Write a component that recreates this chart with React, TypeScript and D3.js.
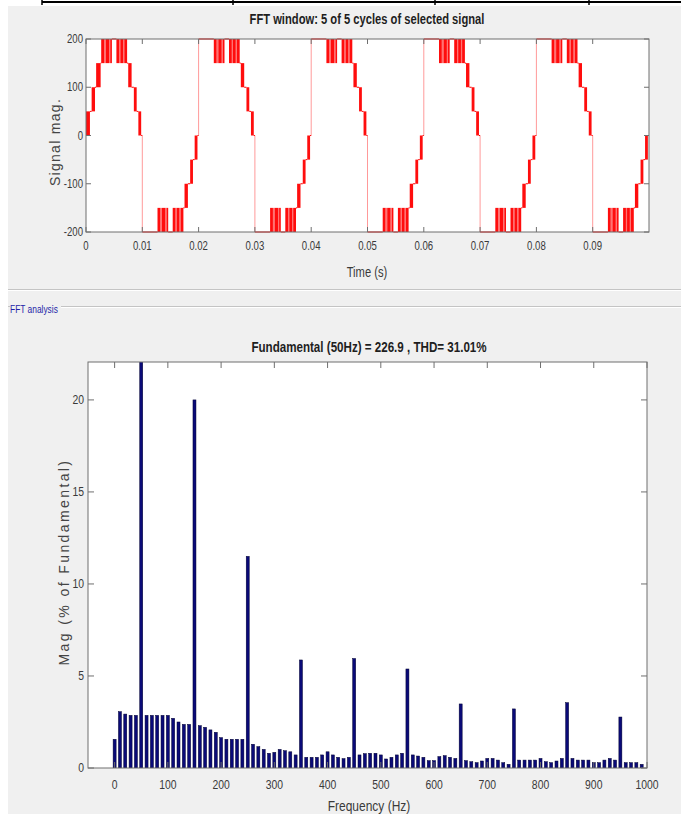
import * as React from 'react';
import * as d3 from 'd3';

// ---- top panel: inverter output over the FFT window ----
const timeTicks = [0, 0.01, 0.02, 0.03, 0.04, 0.05, 0.06, 0.07, 0.08, 0.09];
const timeTickLabels = ['0', '0.01', '0.02', '0.03', '0.04', '0.05', '0.06', '0.07', '0.08', '0.09'];
const signalTicks = [200, 100, 0, -100, -200];

// half cycles (start time, sign)
const halfCycleStart = [0, 0.01, 0.02, 0.03, 0.04, 0.05, 0.06, 0.07, 0.08, 0.09];
const halfCycleSign = [1, -1, 1, -1, 1, -1, 1, -1, 1, -1];

// [t0, t1, low level, high level, dense?] relative to the half cycle start
const startupSteps = [
  [0, 0.0007, 0, 50, 1],
  [0.0007, 0.001, 50, 50, 1],
  [0.001, 0.0016, 50, 100, 1],
  [0.0016, 0.0018, 100, 100, 1],
  [0.0018, 0.0026, 100, 150, 1],
  [0.0026, 0.0027, 150, 150, 1],
];
const holdSteps = [[0, 0.0027, 200, 200, 1]];
const halfCycleSteps = [
  [0.0027, 0.0032, 150, 200, 1],
  [0.0032, 0.0035, 150, 200, 0],
  [0.0035, 0.0041, 150, 200, 1],
  [0.0041, 0.0043, 150, 200, 0],
  [0.0043, 0.0046, 150, 200, 1],
  [0.0046, 0.0054, 200, 200, 1],
  [0.0054, 0.0059, 150, 200, 1],
  [0.0059, 0.0061, 150, 200, 0],
  [0.0061, 0.0066, 150, 200, 1],
  [0.0066, 0.0068, 150, 200, 0],
  [0.0068, 0.0073, 150, 200, 1],
  [0.0073, 0.0075, 150, 150, 1],
  [0.0075, 0.0081, 100, 150, 1],
  [0.0081, 0.0085, 100, 100, 1],
  [0.0085, 0.009, 50, 100, 1],
  [0.009, 0.0093, 50, 50, 1],
  [0.0093, 0.0098, 0, 50, 1],
  [0.0098, 0.01, 0, 0, 1],
];

// ---- bottom panel: harmonic spectrum ----
const freqTicks = [0, 100, 200, 300, 400, 500, 600, 700, 800, 900, 1000];
const magTicks = [0, 5, 10, 15, 20];
const freqHz = [
  0, 10, 20, 30, 40, 50, 60, 70, 80, 90, 100, 110, 120, 130, 140, 150, 160, 170, 180, 190,
  200, 210, 220, 230, 240, 250, 260, 270, 280, 290, 300, 310, 320, 330, 340, 350, 360, 370, 380, 390,
  400, 410, 420, 430, 440, 450, 460, 470, 480, 490, 500, 510, 520, 530, 540, 550, 560, 570, 580, 590,
  600, 610, 620, 630, 640, 650, 660, 670, 680, 690, 700, 710, 720, 730, 740, 750, 760, 770, 780, 790,
  800, 810, 820, 830, 840, 850, 860, 870, 880, 890, 900, 910, 920, 930, 940, 950, 960, 970, 980, 990,
];
const magPct = [
  1.56, 3.06, 2.93, 2.86, 2.86, 100, 2.86, 2.86, 2.86, 2.86, 2.86, 2.7, 2.5, 2.37, 2.37, 20.0, 2.3, 2.21, 2.07, 1.94,
  1.65, 1.56, 1.56, 1.56, 1.56, 11.5, 1.29, 1.16, 1.01, 0.8, 0.85, 1.01, 0.94, 0.88, 0.71, 5.87, 0.58, 0.58, 0.58, 0.71,
  0.88, 0.71, 0.58, 0.51, 0.58, 5.95, 0.71, 0.78, 0.8, 0.8, 0.71, 0.49, 0.58, 0.71, 0.8, 5.38, 0.71, 0.65, 0.58, 0.4,
  0.4, 0.62, 0.67, 0.58, 0.52, 3.48, 0.4, 0.34, 0.29, 0.38, 0.52, 0.52, 0.43, 0.29, 0.2, 3.21, 0.43, 0.43, 0.43, 0.43,
  0.52, 0.34, 0.29, 0.38, 0.52, 3.55, 0.52, 0.43, 0.43, 0.43, 0.29, 0.29, 0.43, 0.52, 0.43, 2.77, 0.29, 0.29, 0.29, 0.2,
];

const SANS = "'Liberation Sans', Arial, sans-serif";
const AXIS = '#6f6f6f';
const TXT = '#3a3a3a';

const top = { left: 86, right: 649, top: 39, bottom: 232 };
const bot = { left: 88, right: 647, top: 362, bottom: 768 };

// Arial squeezed horizontally, stands in for the narrow MATLAB font
function Narrow(props: {
  x: number;
  y: number;
  size: number;
  anchor?: string;
  bold?: boolean;
  fill?: string;
  children: React.ReactNode;
}) {
  return (
    <text
      transform={`translate(${props.x},${props.y}) scale(0.8,1)`}
      textAnchor={props.anchor || 'middle'}
      fontFamily={SANS}
      fontWeight={props.bold ? 'bold' : 'normal'}
      fontSize={props.size}
      fill={props.fill || TXT}
    >
      {props.children}
    </text>
  );
}

export default function App() {
  const x1 = d3.scaleLinear().domain([0, 0.1]).range([top.left, top.right]);
  const y1 = d3.scaleLinear().domain([-200, 200]).range([top.bottom, top.top]);
  const x2 = d3.scaleLinear().domain([-50, 1000]).range([bot.left, bot.right]);
  const y2 = d3.scaleLinear().domain([0, 22.06]).range([bot.bottom, bot.top]);

  // build the waveform marks
  const bands: React.ReactNode[] = [];
  const flats: string[] = [];
  const jumps: string[] = [];
  let prev: { level: number; flat: boolean } | null = null;
  halfCycleStart.forEach((t0, h) => {
    const s = halfCycleSign[h];
    const steps = (h === 0 ? startupSteps : holdSteps).concat(halfCycleSteps);
    steps.forEach((st, i) => {
      const [a, b, lo, hi, dense] = st;
      const ta = t0 + a;
      const tb = t0 + b;
      const flat = lo === hi;
      if (prev && prev.flat && flat && prev.level !== lo * s) {
        jumps.push(`M${x1(ta)},${y1(prev.level)}V${y1(lo * s)}`);
      }
      if (flat) {
        flats.push(`M${x1(ta)},${y1(lo * s)}H${x1(tb)}`);
      } else {
        const ya = y1(Math.max(lo * s, hi * s));
        const yb = y1(Math.min(lo * s, hi * s));
        bands.push(
          <rect
            key={`b${h}-${i}`}
            x={x1(ta)}
            y={ya}
            width={x1(tb) - x1(ta)}
            height={yb - ya}
            fill="#ff0000"
            fillOpacity={dense ? 0.95 : 0.55}
          />
        );
      }
      prev = { level: flat ? lo * s : hi * s, flat };
    });
  });

  const barW = 3;

  return (
    <svg width={681} height={814} style={{ position: 'absolute', left: 0, top: 0, display: 'block' }}>
      <defs>
        <clipPath id="clipTop">
          <rect x={top.left} y={top.top - 1} width={top.right - top.left} height={top.bottom - top.top + 2} />
        </clipPath>
        <clipPath id="clipBot">
          <rect x={bot.left} y={bot.top} width={bot.right - bot.left} height={bot.bottom - bot.top} />
        </clipPath>
      </defs>
      <rect x={0} y={0} width={681} height={814} fill="#ffffff" />
      <rect x={8} y={6} width={673} height={808} fill="#f0f0f0" />

      {/* table border remnants at the very top */}
      <line x1={42} x2={681} y1={2} y2={2} stroke="#000" strokeWidth={2} />
      {[42, 233, 435, 589].map(v => (
        <line key={v} x1={v} x2={v} y1={0} y2={5} stroke="#000" strokeWidth={1.5} />
      ))}

      {/* ---------- top axes ---------- */}
      <Narrow x={367} y={24} size={14} bold fill="#1e1e1e">
        FFT window: 5 of 5 cycles of selected signal
      </Narrow>
      <rect x={top.left} y={top.top} width={top.right - top.left} height={top.bottom - top.top} fill="#fff" />
      <g clipPath="url(#clipTop)">
        {bands}
        <path d={flats.join('')} stroke="#ff0000" strokeWidth={1} fill="none" />
        <path d={jumps.join('')} stroke="#ff0000" strokeOpacity={0.4} strokeWidth={1} fill="none" />
      </g>
      <rect x={top.left} y={top.top} width={top.right - top.left} height={top.bottom - top.top} fill="none" stroke={AXIS} strokeWidth={1} />
      {timeTicks.map((t, i) => (
        <g key={t}>
          <line x1={x1(t)} x2={x1(t)} y1={top.bottom} y2={top.bottom - 5} stroke={AXIS} />
          <line x1={x1(t)} x2={x1(t)} y1={top.top} y2={top.top + 5} stroke={AXIS} />
          <Narrow x={x1(t)} y={250} size={12}>
            {timeTickLabels[i]}
          </Narrow>
        </g>
      ))}
      {signalTicks.map(v => (
        <g key={v}>
          <line x1={top.left} x2={top.left + 5} y1={y1(v)} y2={y1(v)} stroke={AXIS} />
          <line x1={top.right} x2={top.right - 5} y1={y1(v)} y2={y1(v)} stroke={AXIS} />
          <Narrow x={83} y={y1(v) + 4} size={12} anchor="end">
            {v}
          </Narrow>
        </g>
      ))}
      <Narrow x={367} y={277} size={14}>
        Time (s)
      </Narrow>
      <text
        transform="translate(60,142) rotate(-90)"
        textAnchor="middle"
        fontFamily={SANS}
        fontSize={14}
        letterSpacing={1.3}
        fill="#444"
      >
        Signal mag.
      </text>

      {/* panel separators */}
      <line x1={8} x2={681} y1={289.5} y2={289.5} stroke="#c4c4c4" />
      <line x1={8} x2={681} y1={290.5} y2={290.5} stroke="#fff" />
      <line x1={8} x2={10} y1={306.5} y2={306.5} stroke="#c4c4c4" />
      <line x1={61} x2={681} y1={306.5} y2={306.5} stroke="#c4c4c4" />
      <line x1={61} x2={681} y1={307.5} y2={307.5} stroke="#fff" />
      <Narrow x={10} y={313} size={10.5} anchor="start" fill="#1f1fa8">
        FFT analysis
      </Narrow>

      {/* ---------- bottom axes ---------- */}
      <Narrow x={369} y={352} size={14.5} bold fill="#1e1e1e">
        Fundamental (50Hz) = 226.9 , THD= 31.01%
      </Narrow>
      <rect x={bot.left} y={bot.top} width={bot.right - bot.left} height={bot.bottom - bot.top} fill="#fff" />
      <g clipPath="url(#clipBot)">
        {freqHz.map((f, i) => (
          <rect
            key={f}
            x={x2(f) - barW / 2}
            y={y2(magPct[i])}
            width={barW}
            height={y2(0) - y2(magPct[i])}
            fill="#0a0a78"
            stroke="#000030"
            strokeWidth={0.5}
          />
        ))}
      </g>
      <rect x={bot.left} y={bot.top} width={bot.right - bot.left} height={bot.bottom - bot.top} fill="none" stroke={AXIS} strokeWidth={1} />
      {freqTicks.map(f => (
        <g key={f}>
          <line x1={x2(f)} x2={x2(f)} y1={bot.bottom} y2={bot.bottom - 6} stroke={AXIS} />
          <line x1={x2(f)} x2={x2(f)} y1={bot.top} y2={bot.top + 6} stroke={AXIS} />
          <Narrow x={x2(f)} y={789} size={13}>
            {f}
          </Narrow>
        </g>
      ))}
      {magTicks.map(v => (
        <g key={v}>
          <line x1={bot.left} x2={bot.left + 6} y1={y2(v)} y2={y2(v)} stroke={AXIS} />
          <line x1={bot.right} x2={bot.right - 6} y1={y2(v)} y2={y2(v)} stroke={AXIS} />
          <Narrow x={84} y={y2(v) + 4} size={13} anchor="end">
            {v}
          </Narrow>
        </g>
      ))}
      <Narrow x={369} y={811} size={15}>
        Frequency (Hz)
      </Narrow>
      <text
        transform="translate(69,562) rotate(-90)"
        textAnchor="middle"
        fontFamily={SANS}
        fontSize={14}
        letterSpacing={2.4}
        fill="#444"
      >
        Mag (% of Fundamental)
      </text>
    </svg>
  );
}
